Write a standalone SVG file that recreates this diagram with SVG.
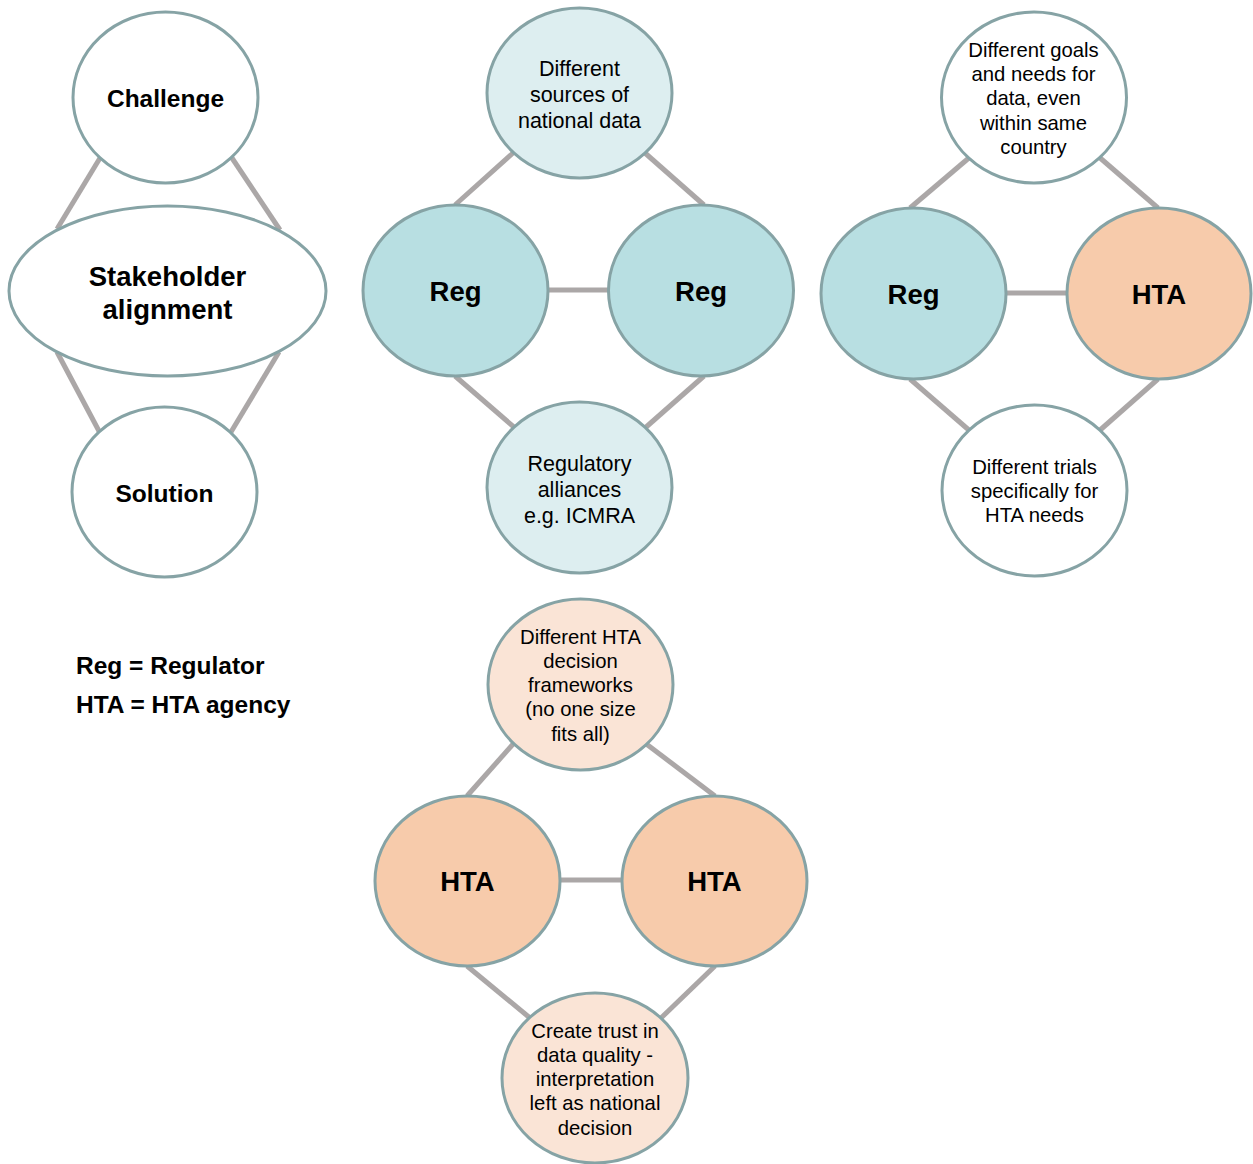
<svg xmlns="http://www.w3.org/2000/svg" width="1253" height="1164" viewBox="0 0 1253 1164">
<style>
.n{stroke:#86A3A5;stroke-width:3}
.w{fill:#FFFFFF}
.rb{fill:#B8DFE2}
.rl{fill:#DDEEF0}
.hb{fill:#F7CBAB}
.hl{fill:#FAE4D6}
.c line{stroke:#ABA7A7;stroke-width:5}
text{font-family:"Liberation Sans",Arial,sans-serif;fill:#000;text-anchor:middle}
.big{font-size:27.5px;font-weight:bold}
.mid{font-size:24.5px;font-weight:bold}
.s{font-size:20.3px}
.s21{font-size:21.5px}
.leg{font-size:24.5px;font-weight:bold;text-anchor:start}
</style>
<rect width="1253" height="1164" fill="#FFFFFF"/>
<g class="c" id="connectors">
<line x1="100" y1="158" x2="57" y2="229"/>
<line x1="232" y1="158" x2="280" y2="230"/>
<line x1="57" y1="352" x2="100" y2="433"/>
<line x1="279" y1="352" x2="231" y2="432"/>
<line x1="513" y1="153" x2="455" y2="205"/>
<line x1="645" y1="153" x2="704" y2="205"/>
<line x1="548" y1="290" x2="608" y2="290"/>
<line x1="455" y1="376" x2="515" y2="428"/>
<line x1="704" y1="376" x2="645" y2="428"/>
<line x1="970" y1="157" x2="910" y2="208"/>
<line x1="1099" y1="157" x2="1158" y2="208"/>
<line x1="1006" y1="293" x2="1067" y2="293"/>
<line x1="910" y1="379" x2="970" y2="431"/>
<line x1="1158" y1="379" x2="1099" y2="431"/>
<line x1="514" y1="743" x2="467" y2="796"/>
<line x1="645" y1="743" x2="715" y2="796"/>
<line x1="560" y1="880" x2="622" y2="880"/>
<line x1="467" y1="966" x2="530" y2="1018"/>
<line x1="715" y1="966" x2="661" y2="1018"/>
</g>
<g id="challenge"><ellipse class="n w" cx="165.5" cy="97.5" rx="92.5" ry="85.5"/><text class="mid" x="165.5" y="106.5">Challenge</text></g>
<g id="stakeholder"><ellipse class="n w" cx="167.5" cy="291" rx="158.5" ry="85"/><text class="big" x="167.5" y="285.5">Stakeholder</text><text class="big" x="167.5" y="318.5">alignment</text></g>
<g id="solution"><ellipse class="n w" cx="164.5" cy="492" rx="92.5" ry="85"/><text class="mid" x="164.5" y="502">Solution</text></g>

<g id="p2-top"><ellipse class="n rl" cx="579.5" cy="93" rx="92.5" ry="85"/><text class="s21" x="579.5" y="75.5">Different</text><text class="s21" x="579.5" y="101.5">sources of</text><text class="s21" x="579.5" y="127.5">national data</text></g>
<g id="p2-reg-left"><ellipse class="n rb" cx="455.5" cy="290.5" rx="92.5" ry="85.5"/><text class="big" x="455.5" y="301">Reg</text></g>
<g id="p2-reg-right"><ellipse class="n rb" cx="701" cy="290.5" rx="92.5" ry="85.5"/><text class="big" x="701" y="301">Reg</text></g>
<g id="p2-bottom"><ellipse class="n rl" cx="579.5" cy="487.5" rx="92.5" ry="85.5"/><text class="s21" x="579.5" y="470.5">Regulatory</text><text class="s21" x="579.5" y="496.5">alliances</text><text class="s21" x="579.5" y="522.5">e.g. ICMRA</text></g>

<g id="p3-top"><ellipse class="n w" cx="1034" cy="97.5" rx="92.5" ry="85.5"/><text class="s" x="1033.5" y="57">Different goals</text><text class="s" x="1033.5" y="81">and needs for</text><text class="s" x="1033.5" y="105">data, even</text><text class="s" x="1033.5" y="130">within same</text><text class="s" x="1033.5" y="154">country</text></g>
<g id="p3-reg"><ellipse class="n rb" cx="913.5" cy="293.5" rx="92.5" ry="85.5"/><text class="big" x="913.5" y="304">Reg</text></g>
<g id="p3-hta"><ellipse class="n hb" cx="1159" cy="293.5" rx="92" ry="85.5"/><text class="big" x="1159" y="304">HTA</text></g>
<g id="p3-bottom"><ellipse class="n w" cx="1034.5" cy="490.5" rx="92.5" ry="85.5"/><text class="s" x="1034.5" y="474">Different trials</text><text class="s" x="1034.5" y="498">specifically for</text><text class="s" x="1034.5" y="522">HTA needs</text></g>

<g id="p4-top"><ellipse class="n hl" cx="580.5" cy="684.5" rx="92.5" ry="85.5"/><text class="s" x="580.5" y="644">Different HTA</text><text class="s" x="580.5" y="668">decision</text><text class="s" x="580.5" y="692">frameworks</text><text class="s" x="580.5" y="716">(no one size</text><text class="s" x="580.5" y="741">fits all)</text></g>
<g id="p4-hta-left"><ellipse class="n hb" cx="467.5" cy="881" rx="92.5" ry="85"/><text class="big" x="467.5" y="891">HTA</text></g>
<g id="p4-hta-right"><ellipse class="n hb" cx="714.5" cy="881" rx="92.5" ry="85"/><text class="big" x="714.5" y="891">HTA</text></g>
<g id="p4-bottom"><ellipse class="n hl" cx="595" cy="1078" rx="93" ry="85"/><text class="s" x="595" y="1038">Create trust in</text><text class="s" x="595" y="1062">data quality -</text><text class="s" x="595" y="1086">interpretation</text><text class="s" x="595" y="1110">left as national</text><text class="s" x="595" y="1135">decision</text></g>

<g id="legend"><text class="leg" x="76" y="674">Reg = Regulator</text><text class="leg" x="76" y="713">HTA = HTA agency</text></g>
</svg>
